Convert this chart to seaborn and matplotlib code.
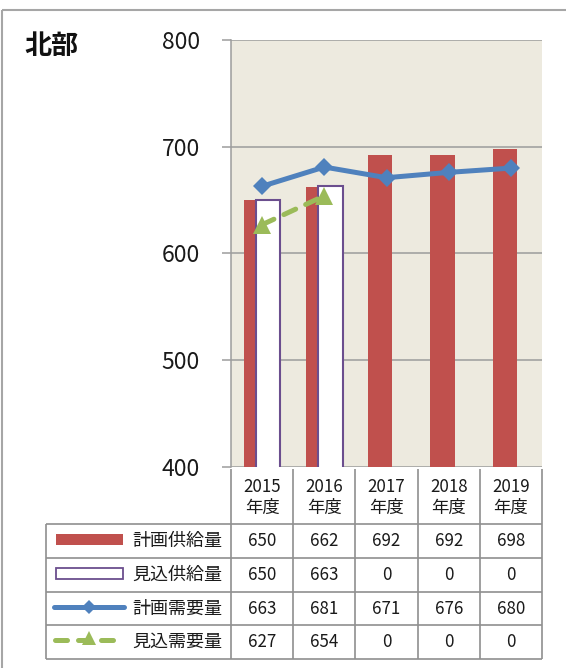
import numpy as np
import pandas as pd
import matplotlib
matplotlib.use("Agg")
import matplotlib.pyplot as plt
from matplotlib.lines import Line2D
from matplotlib.patches import Rectangle
import seaborn as sns

# ---- data ----
years = ["2015", "2016", "2017", "2018", "2019"]
year_suffix = "年度"
series_names = ["計画供給量", "見込供給量", "計画需要量", "見込需要量"]
plan_supply = [650, 662, 692, 692, 698]
expected_supply = [650, 663, 0, 0, 0]
plan_demand = [663, 681, 671, 676, 680]
expected_demand = [627, 654, 0, 0, 0]
y_ticks = [400, 500, 600, 700, 800]
title = "北部"

sns.set_theme(style="white")
plt.rcParams["font.family"] = ["Noto Sans CJK JP", "DejaVu Sans"]

W, H = 566, 668
fig = plt.figure(figsize=(W / 100, H / 100), dpi=100)

RED = "#C0504D"
PURPLE = "#6B4E8E"
BLUE = "#4F81BD"
GREEN = "#9BBB59"
BG = "#EDEADF"
GRID = "#9C9C9C"
TXT = "#1a1a1a"

# plot area in pixels
L, R, T, B = 231, 542, 40, 467
ax = fig.add_axes([L / W, 1 - B / H, (R - L) / W, (B - T) / H])
ax.set_facecolor(BG)

n = len(years)
idx = np.arange(n)
off = 0.1
sns.barplot(x=idx - off, y=plan_supply, native_scale=True, orient="x", width=0.39,
            color=RED, saturation=1, edgecolor=RED, linewidth=0, ax=ax, zorder=2)
sns.barplot(x=idx + off, y=expected_supply, native_scale=True, orient="x", width=0.39,
            color="white", saturation=1, edgecolor=PURPLE, linewidth=1.5, ax=ax, zorder=3)

pd_df = pd.DataFrame({"x": idx, "y": plan_demand})
sns.lineplot(data=pd_df, x="x", y="y", color=BLUE, linewidth=3.6, marker="D",
             markersize=9.5, markeredgewidth=0, solid_capstyle="round",
             solid_joinstyle="round", ax=ax, zorder=5)

ed = np.array(expected_demand, dtype=float)
mask = ed > 0
ed_df = pd.DataFrame({"x": idx[mask], "y": ed[mask]})
sns.lineplot(data=ed_df, x="x", y="y", color=GREEN, linewidth=3.6, marker="^",
             markersize=13.5, markeredgewidth=0, linestyle=(0, (2.6, 2.2)),
             dash_capstyle="round", ax=ax, zorder=6)

ax.set_xlim(-0.5, n - 0.5)
ax.set_ylim(400, 800)
ax.set_yticks(y_ticks)
ax.set_yticklabels([str(v) for v in y_ticks], fontsize=16.5, color=TXT)
ax.set_xticks([])
ax.set_xlabel("")
ax.set_ylabel("")
ax.grid(axis="y", color=GRID, linewidth=1.1)
ax.set_axisbelow(True)
for s in ["top", "right", "bottom"]:
    ax.spines[s].set_visible(False)
ax.spines["left"].set_color(GRID)
ax.spines["left"].set_linewidth(1.1)
ax.tick_params(axis="y", length=6.5, width=1.1, color=GRID, pad=16, left=True)
ax.yaxis.set_tick_params(which="major", direction="out")

# ---- overlay (pixel coordinates) for table, frame and title ----
ov = fig.add_axes([0, 0, 1, 1], facecolor="none")
ov.set_xlim(0, W)
ov.set_ylim(H, 0)
ov.axis("off")

def hline(y, x0, x1, c="#8f8f8f", lw=1.2):
    ov.add_line(Line2D([x0, x1], [y, y], color=c, lw=lw, solid_capstyle="butt"))

def vline(x, y0, y1, c="#8f8f8f", lw=1.2):
    ov.add_line(Line2D([x, x], [y0, y1], color=c, lw=lw, solid_capstyle="butt"))

# outer frame
hline(10, 2, W, c="#a6a6a6", lw=1.5)
vline(2, 10, H, c="#a6a6a6", lw=1.5)

ov.text(24, 46, title, fontsize=19.5, fontweight="bold", color="#111111",
        ha="left", va="center")

colw = (R - L) / n
col_x = [L + colw * i for i in range(n + 1)]
head_top, head_bot = 469, 524
rows_y = [524, 558, 592, 625, 659]
leg_left = 46

for x in col_x:
    vline(x, head_top, rows_y[-1])
vline(leg_left, rows_y[0], rows_y[-1])
for y in rows_y:
    hline(y, leg_left, R)

for i, yr in enumerate(years):
    cx = col_x[i] + colw / 2
    ov.text(cx, 487, yr, fontsize=12.2, ha="center", va="center", color=TXT)
    ov.text(cx, 508, year_suffix, fontsize=12.5, ha="center", va="center", color=TXT)

table_vals = [plan_supply, expected_supply, plan_demand, expected_demand]
for r, vals in enumerate(table_vals):
    cy = (rows_y[r] + rows_y[r + 1]) / 2
    ov.text(132, cy, series_names[r], fontsize=13, ha="left", va="center", color=TXT)
    for i, v in enumerate(vals):
        cx = col_x[i] + colw / 2
        ov.text(cx, cy, str(v), fontsize=12.2, ha="center", va="center", color=TXT)

# legend keys
ov.add_patch(Rectangle((56, 534), 67, 11, facecolor=RED, edgecolor="none"))
ov.add_patch(Rectangle((56, 568), 67, 11, facecolor="white", edgecolor=PURPLE, lw=1.3))
ov.add_line(Line2D([54, 124], [607, 607], color=BLUE, lw=3.6, solid_capstyle="round"))
ov.add_line(Line2D([89], [607], color=BLUE, marker="D", markersize=7, markeredgewidth=0))
ov.add_line(Line2D([55, 117], [640, 640], color=GREEN, lw=3.6, linestyle=(0, (2.4, 2.2)),
                   dash_capstyle="round"))
ov.add_line(Line2D([89], [638], color=GREEN, marker="^", markersize=10, markeredgewidth=0))

fig.savefig("out.png", dpi=100)
